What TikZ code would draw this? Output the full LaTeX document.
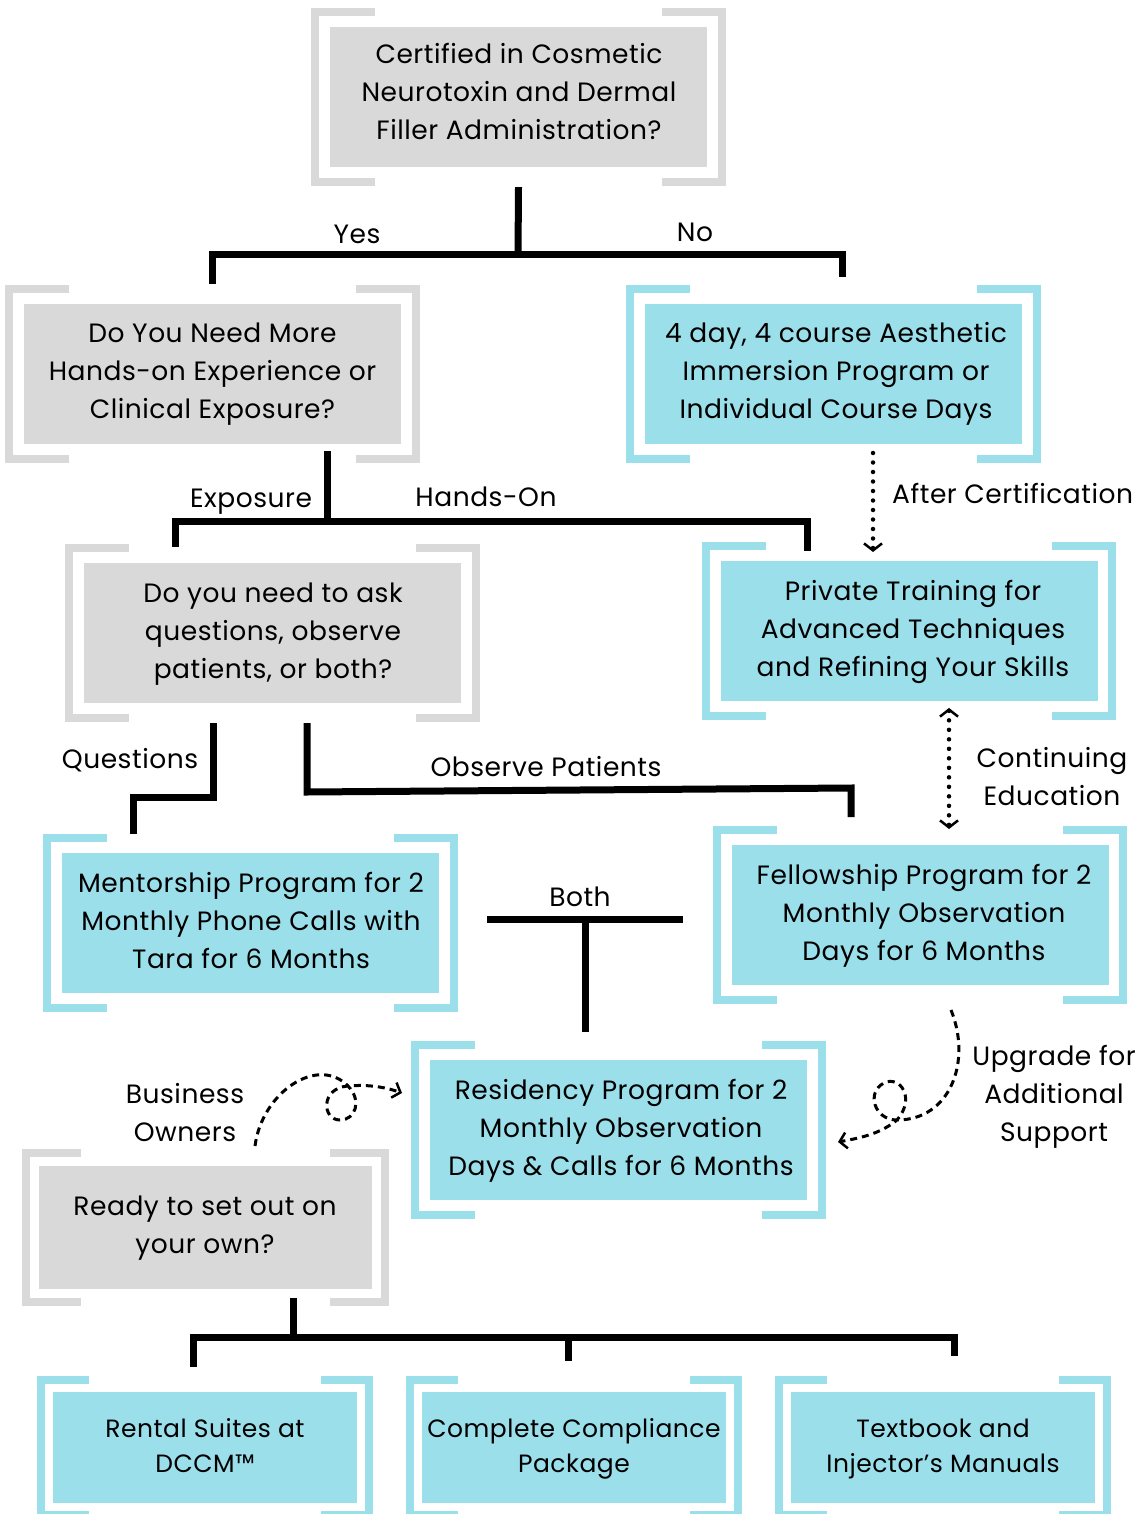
\documentclass[tikz,border=0pt]{standalone}
\usepackage{fontspec}
\setmainfont{Poppins}[LetterSpace=2]
\usetikzlibrary{arrows.meta, calc}
\definecolor{boxgrey}{HTML}{D9D9D9}
\definecolor{boxblue}{HTML}{9BDFEB}

% bracket pair round a box: node, colour, gap, arm
\newcommand{\bracketpair}[4]{%
  \draw[#2, line width=8pt]
    ([xshift={(#4-#3)*1pt}, yshift=#3pt]#1.north west) -- ([xshift=-#3pt, yshift=#3pt]#1.north west)
    -- ([xshift=-#3pt, yshift=-#3pt]#1.south west) -- ([xshift={(#4-#3)*1pt}, yshift=-#3pt]#1.south west);
  \draw[#2, line width=8pt]
    ([xshift={(#3-#4)*1pt}, yshift=#3pt]#1.north east) -- ([xshift=#3pt, yshift=#3pt]#1.north east)
    -- ([xshift=#3pt, yshift=-#3pt]#1.south east) -- ([xshift={(#3-#4)*1pt}, yshift=-#3pt]#1.south east);
}

\tikzset{
  greybox/.style={fill=boxgrey, inner sep=0pt, minimum width=377pt, minimum height=140pt},
  bluebox/.style={fill=boxblue, inner sep=0pt, minimum width=377pt, minimum height=140pt},
  boxtext/.style={align=center, inner sep=0pt, font=\fontsize{26.5}{38}\selectfont,
    execute at begin node=\strut, execute at end node=\strut},
  lbl/.style={inner sep=0pt, font=\fontsize{26.5}{38}\selectfont},
  tree/.style={line width=7pt},
  dotline/.style={line width=4.5pt, line cap=round, dash pattern=on 0pt off 9.5pt},
  barb/.style={-{Straight Barb[length=7pt, width=18pt, line width=2.5pt]}},
  curly/.style={line width=3pt, dash pattern=on 7pt off 5pt,
    -{Straight Barb[length=7pt, width=16pt, line width=2.5pt]}}
}

\begin{document}
\begin{tikzpicture}[x=1pt, y=-1pt]
\useasboundingbox (0,0) rectangle (1138,1514);

% Question boxes
\node[greybox] (cert) at (518.5,97) {};
\node[boxtext] (certtext) at (519,97) {Certified in Cosmetic\\Neurotoxin and Dermal\\Filler Administration?};
\bracketpair{cert}{boxgrey}{14.5}{60}

\node[greybox] (needmore) at (212.5,374) {};
\node[boxtext] (needmoretext) at (212.5,376) {Do You Need More\\Hands-on Experience or\\Clinical Exposure?};
\bracketpair{needmore}{boxgrey}{14.5}{60}

\node[bluebox] (immersion) at (833.5,374) {};
\node[boxtext] (immersiontext) at (836,376) {4 day, 4 course Aesthetic\\Immersion Program or\\Individual Course Days};
\bracketpair{immersion}{boxblue}{14.5}{60}

\node[greybox] (askobserve) at (272.5,633) {};
\node[boxtext] (askobservetext) at (273,636) {Do you need to ask\\questions, observe\\patients, or both?};
\bracketpair{askobserve}{boxgrey}{14.5}{60}

\node[bluebox] (private) at (909,631) {};
\node[boxtext] (privatetext) at (913,634) {Private Training for\\Advanced Techniques\\and Refining Your Skills};
\bracketpair{private}{boxblue}{14.5}{60}

\node[bluebox] (mentor) at (250.5,923) {};
\node[boxtext] (mentortext) at (251,926) {Mentorship Program for 2\\Monthly Phone Calls with\\Tara for 6 Months};
\bracketpair{mentor}{boxblue}{14.5}{60}

\node[bluebox] (fellow) at (920,915) {};
\node[boxtext] (fellowtext) at (924,918) {Fellowship Program for 2\\Monthly Observation\\Days for 6 Months};
\bracketpair{fellow}{boxblue}{14.5}{60}

\node[bluebox] (residency) at (618.5,1130) {};
\node[boxtext] (residencytext) at (621,1133) {Residency Program for 2\\Monthly Observation\\Days \& Calls for 6 Months};
\bracketpair{residency}{boxblue}{14.5}{60}

\node[greybox, minimum width=333pt, minimum height=123pt] (ready) at (205.5,1227.5) {};
\node[boxtext] (readytext) at (205,1230) {Ready to set out on\\your own?};
\bracketpair{ready}{boxgrey}{13}{55}

% Bottom row of offers
\foreach \name/\x/\txt in {rental/205/{Rental Suites at\\DCCM™},
                          compliance/574/{Complete Compliance\\Package},
                          textbook/943/{Textbook and\\Injector's Manuals}} {
  \node[bluebox, minimum width=304pt, minimum height=111pt] (\name) at (\x,1447.5) {};
  \node[boxtext, font=\fontsize{25}{35}\selectfont] (\name text) at (\x,1451) {\txt};
  \bracketpair{\name}{boxblue}{12}{48}
}

% Yes / No
\coordinate (yesno) at (518,255);
\coordinate (yesdrop) at ([yshift=20pt]needmore.north);
\coordinate (nodrop) at (842,277);
\draw[tree] ([yshift=-20pt]cert.south) -- (yesno);
\draw[tree] (yesdrop) |- (yesno) -| (nodrop);
\node[lbl] (yes) at (357,234) {Yes};
\node[lbl] (no) at (695,232) {No};

% Exposure / Hands-On
\coordinate (exphands) at (327,521);
\coordinate (expdrop) at (175,547);
\coordinate (handsdrop) at (807,551);
\draw[tree] ([yshift=-7pt]needmore.south -| exphands) -- (exphands);
\draw[tree] (expdrop) |- (exphands) -| (handsdrop);
\node[lbl] (exposure) at (251,502) {Exposure};
\node[lbl] (handson) at (486,497) {Hands-On};

% After certification
\draw[dotline, barb] (873,453) -- (873,552);
\node[lbl, anchor=west] (aftercert) at (892,493) {After Certification};

% Continuing education
\draw[dotline, {Straight Barb[length=7pt, width=18pt, line width=2.5pt]}-{Straight Barb[length=7pt, width=18pt, line width=2.5pt]}] (949,708) -- (949,829);
\node[boxtext] (contedu) at (1052,782) {Continuing\\Education};

% Questions
\coordinate (qtop) at (213,723);
\coordinate (qdrop) at (133,834);
\draw[tree] (qtop) -- (213,797) -| (qdrop);
\node[lbl] (questions) at (130,760) {Questions};

% Observe patients
\coordinate (otop) at (307,723);
\coordinate (odrop) at (851,817);
\draw[tree] (otop) -- (307,792) -- (851,788) -- (odrop);
\node[lbl] (observe) at (546,767) {Observe Patients};

% Both
\coordinate (bothl) at (487,919);
\coordinate (bothr) at (683,919);
\coordinate (bothdrop) at (585,1032);
\draw[tree] (bothl) -- (bothr);
\draw[tree] (585,919) -- (bothdrop);
\node[lbl] (both) at (580,897) {Both};

% Business owners
\draw[curly] (255,1146) .. controls (262,1092) and (318,1055) .. (348,1086)
  .. controls (362,1100) and (356,1120) .. (340,1120)
  .. controls (322,1120) and (320,1088) .. (348,1086)
  .. controls (370,1084) and (388,1088) .. (402,1093);
\node[boxtext] (busowners) at (185,1118) {Business\\Owners};

% Upgrade
\draw[curly] (951,1010) .. controls (972,1062) and (950,1120) .. (897,1120)
  .. controls (874,1120) and (866,1092) .. (884,1083)
  .. controls (900,1075) and (916,1098) .. (897,1120)
  .. controls (880,1134) and (860,1138) .. (838,1142);
\node[boxtext] (upgrade) at (1054,1099) {Upgrade for\\Additional\\Support};

% Ready to set out on your own
\coordinate (readybar) at (293,1337);
\draw[tree] (293,1298) -- (readybar);
\draw[tree] (193,1367) |- (954,1337) -- (954,1356);
\draw[tree] (568,1337) -- (568,1361);

\end{tikzpicture}
\end{document}
